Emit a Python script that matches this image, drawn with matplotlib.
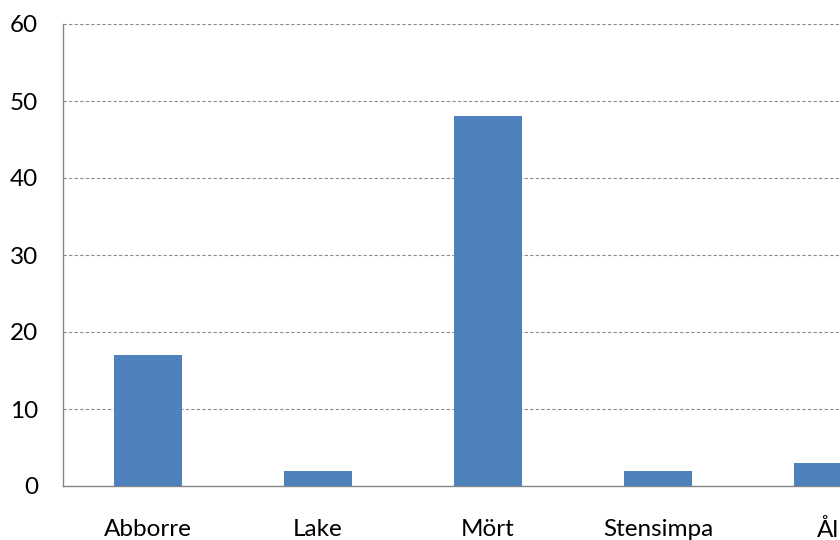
import matplotlib
matplotlib.use("Agg")
import matplotlib.pyplot as plt

categories = ["Abborre", "Lake", "Mört", "Stensimpa", "Ål"]
values = [17, 2, 48, 2, 3]
yticks = [0, 10, 20, 30, 40, 50, 60]

plt.rcParams['font.family'] = ['Lato', 'DejaVu Sans']

fig = plt.figure(figsize=(8.4, 5.4), dpi=100)
# axes extends beyond right edge (reference is cropped)
ax = fig.add_axes([63/840, (540-486)/540, 850/840, (486-24)/540])
x = list(range(len(categories)))
ax.bar(x, values, width=0.4, color="#4F81BD", zorder=3)
ax.set_xlim(-0.5, len(categories) - 0.5)
ax.set_ylim(0, 60)
ax.set_yticks(yticks)
ax.set_xticks(x)
ax.set_xticklabels(categories)
ax.yaxis.grid(True, linestyle=(0, (3, 2)), color="#8c8c8c", linewidth=0.8, zorder=0)
ax.tick_params(axis="both", length=0, labelsize=17.5, colors="#000000")
ax.tick_params(axis="x", pad=24)
ax.tick_params(axis="y", pad=18)
for s in ["top", "right"]:
    ax.spines[s].set_visible(False)
for s in ["left", "bottom"]:
    ax.spines[s].set_color("#868686")
    ax.spines[s].set_linewidth(1.0)

fig.savefig("out.png", dpi=100)
